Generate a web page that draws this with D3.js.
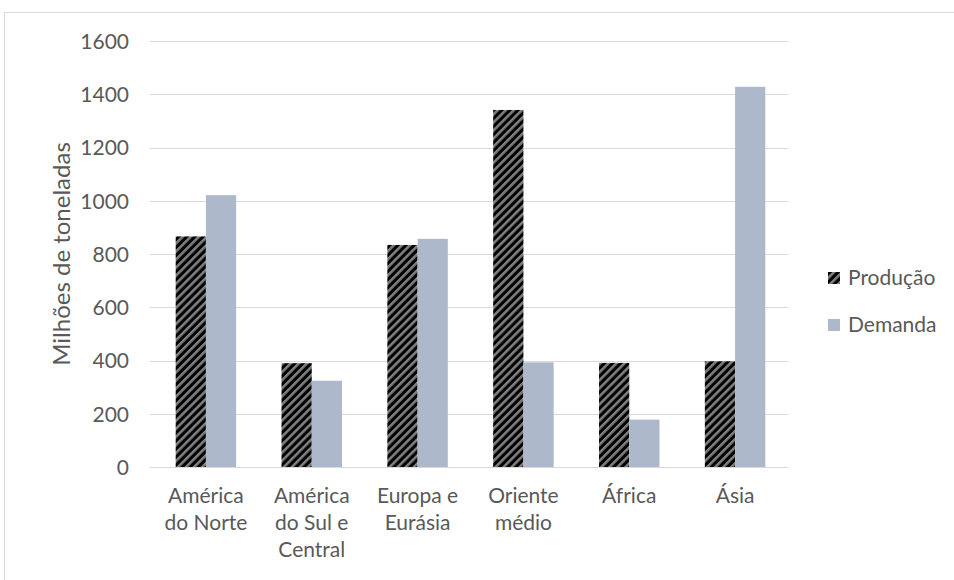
<!DOCTYPE html>
<html>
<head>
<meta charset="utf-8">
<script src="https://cdn.jsdelivr.net/npm/d3@7"></script>
<style>
  html, body { margin: 0; padding: 0; background: #fff; }
  svg { display: block; }
  text { font-family: Lato, "Open Sans", "Liberation Sans", sans-serif; fill: #595959; }
</style>
</head>
<body>
<svg id="chart" width="954" height="580"></svg>
<script>
// Produção e demanda por região (milhões de toneladas)
const categories = [
  ["América", "do Norte"],
  ["América", "do Sul e", "Central"],
  ["Europa e", "Eurásia"],
  ["Oriente", "médio"],
  ["África"],
  ["Ásia"]
];
const seriesNames = ["Produção", "Demanda"];
const producao = [866, 390, 834, 1341, 391, 397];
const demanda = [1021, 324, 857, 393, 178, 1428];
const yTicks = [0, 200, 400, 600, 800, 1000, 1200, 1400, 1600];

const svg = d3.select("#chart");
const W = 954, H = 580;
const plot = { left: 153, right: 788, top: 41, bottom: 467 };
const labelSize = 21;

// Chart area outline
svg.append("rect")
  .attr("x", 4.5).attr("y", 12.5)
  .attr("width", W + 10).attr("height", H + 10)
  .attr("fill", "none").attr("stroke", "#d9d9d9").attr("stroke-width", 1);

// Diagonal stripe pattern for Produção
const defs = svg.append("defs");
const pat = defs.append("pattern")
  .attr("id", "stripes")
  .attr("patternUnits", "userSpaceOnUse")
  .attr("width", 5.7).attr("height", 5.7)
  .attr("patternTransform", "rotate(45)");
pat.append("rect").attr("width", 5.7).attr("height", 5.7).attr("fill", "#000");
pat.append("rect").attr("width", 2.6).attr("height", 5.7).attr("fill", "#808080");

const x0 = d3.scaleBand()
  .domain(d3.range(categories.length))
  .range([plot.left, plot.right])
  .padding(0);

const y = d3.scaleLinear().domain([0, 1600]).range([plot.bottom, plot.top]);

// Gridlines
svg.append("g")
  .selectAll("line")
  .data(yTicks)
  .join("line")
  .attr("x1", plot.left - 3).attr("x2", plot.right)
  .attr("y1", d => Math.round(y(d)) + 0.5).attr("y2", d => Math.round(y(d)) + 0.5)
  .attr("stroke", "#d9d9d9").attr("stroke-width", 1);

// Y axis labels
const yAxis = d3.axisLeft(y).tickValues(yTicks).tickFormat(d3.format("d")).tickSize(0).tickPadding(0);
const gy = svg.append("g").attr("transform", `translate(129,0)`).call(yAxis);
gy.select(".domain").remove();
gy.selectAll("text")
  .attr("font-size", labelSize)
  .attr("fill", "#595959")
  .style("font-family", "Lato, 'Open Sans', sans-serif")
  .attr("dy", "0.35em");

// Bars: each category band holds two bars with 150% gap
const band = x0.bandwidth();
const barW = band / 3.5;
const x1 = d3.scaleBand().domain([0, 1]).range([0, 2 * barW]).padding(0);

const data = categories.map((c, i) => ({ i, values: [producao[i], demanda[i]] }));
const groups = svg.append("g").selectAll("g")
  .data(data)
  .join("g")
  .attr("transform", d => `translate(${x0(d.i) + (band - 2 * barW) / 2},0)`);

groups.selectAll("rect")
  .data(d => d.values.map((v, s) => ({ v, s })))
  .join("rect")
  .attr("x", d => x1(d.s))
  .attr("width", x1.bandwidth())
  .attr("y", d => y(d.v))
  .attr("height", d => y(0) - y(d.v))
  .attr("fill", d => d.s === 0 ? "url(#stripes)" : "#adb9ca");

// X axis category labels
const xl = svg.append("g");
categories.forEach((lines, i) => {
  const cx = x0(i) + band / 2;
  const t = xl.append("text")
    .attr("text-anchor", "middle")
    .attr("font-size", labelSize)
    .attr("x", cx);
  lines.forEach((ln, k) => {
    t.append("tspan").attr("x", cx).attr("y", 503 + k * 27).text(ln);
  });
});

// Y axis title
svg.append("text")
  .attr("transform", `translate(62,${(plot.top + plot.bottom) / 2}) rotate(-90)`)
  .attr("text-anchor", "middle")
  .attr("dy", "0.35em")
  .attr("font-size", 24)
  .text("Milhões de toneladas");

// Legend
const legend = svg.append("g");
seriesNames.forEach((name, k) => {
  const ly = 278 + k * 47;
  legend.append("rect")
    .attr("x", 828).attr("y", ly - 6)
    .attr("width", 12).attr("height", 12)
    .attr("fill", k === 0 ? "url(#stripes)" : "#adb9ca");
  legend.append("text")
    .attr("x", 848).attr("y", ly)
    .attr("dy", "0.35em")
    .attr("font-size", labelSize)
    .text(name);
});
</script>
</body>
</html>
